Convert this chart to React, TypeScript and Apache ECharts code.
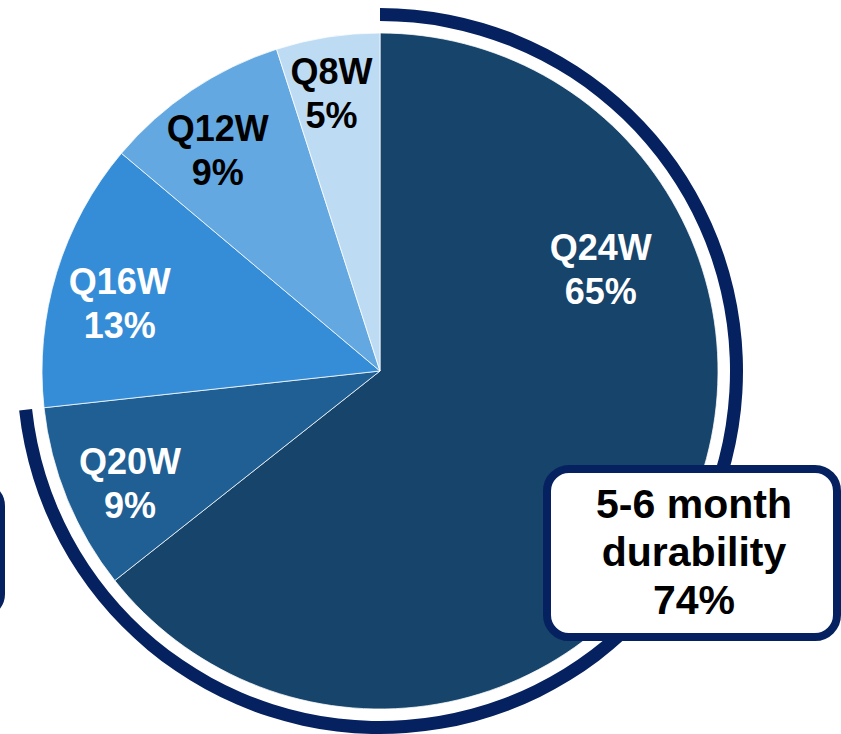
import React, { useEffect, useRef } from "react";
import * as echarts from "echarts";

// Dosing interval shares
const categories = ["Q24W", "Q20W", "Q16W", "Q12W", "Q8W"];
const shares = [65, 9, 13, 9, 5];
const sliceColors = ["#17446B", "#1F5F94", "#368DD7", "#63A8E0", "#BDDBF2"];
const labelColors = ["#FFFFFF", "#FFFFFF", "#FFFFFF", "#000000", "#000000"];
// Intervals grouped as 5-6 month durability (Q20W and Q24W)
const durableGroup = ["Q24W", "Q20W"];

// Label anchors in polar form around the pie centre: [clockwise angle from 12 o'clock, distance]
const labelSpots: [number, number][] = [
  [65.3, 243],
  [245.8, 274],
  [284.6, 269],
  [323.7, 274],
  [350.1, 282],
];

const NAVY = "#05215F";
const FONT = "'Liberation Sans', Arial, Helvetica, sans-serif";

export default function App() {
  const ref = useRef<HTMLDivElement>(null);

  useEffect(() => {
    if (!ref.current) return;
    const chart = echarts.init(ref.current, undefined, { renderer: "svg" });

    const cx = 380;
    const cy = 371;
    const R = 338;

    const total = shares.reduce((a, b) => a + b, 0);
    const durable = categories.reduce(
      (s, c, i) => (durableGroup.includes(c) ? s + shares[i] : s),
      0
    );

    const option: any = {
      animation: false,
      backgroundColor: "#FFFFFF",
      textStyle: { fontFamily: FONT },
      series: [
        {
          type: "pie",
          center: [cx, cy],
          radius: [0, R],
          startAngle: 90,
          clockwise: true,
          silent: true,
          itemStyle: { borderColor: "rgba(255,255,255,0.75)", borderWidth: 1 },
          label: {
            show: true,
            position: "inside",
            fontFamily: FONT,
            fontWeight: "bold",
            fontSize: 36,
            lineHeight: 44,
            align: "center",
            verticalAlign: "middle",
            formatter: (p: any) => `${p.name}\n${p.value}%`,
          },
          labelLine: { show: false },
          labelLayout: (p: any) => {
            const [deg, dist] = labelSpots[p.dataIndex];
            const a = (deg * Math.PI) / 180;
            return { x: cx + dist * Math.sin(a), y: cy - dist * Math.cos(a) };
          },
          data: categories.map((name, i) => ({
            name,
            value: shares[i],
            itemStyle: { color: sliceColors[i] },
            label: { color: labelColors[i] },
          })),
        },
        {
          // outer arc spanning the durable group
          type: "pie",
          center: [cx, cy],
          radius: [350, 363],
          startAngle: 90,
          clockwise: true,
          silent: true,
          label: { show: false },
          labelLine: { show: false },
          data: [
            { name: "durable", value: durable, itemStyle: { color: NAVY } },
            { name: "rest", value: total - durable, itemStyle: { color: "rgba(0,0,0,0)" } },
          ],
        },
      ],
      graphic: [
        {
          type: "rect",
          shape: { x: -300, y: 486, width: 301, height: 128, r: 20 },
          style: { fill: "#FFFFFF", stroke: NAVY, lineWidth: 8 },
          silent: true,
        },
        {
          type: "rect",
          shape: { x: 547, y: 469, width: 290, height: 168, r: 22 },
          style: { fill: "#FFFFFF", stroke: NAVY, lineWidth: 8 },
          silent: true,
          z: 10,
        },
        {
          type: "text",
          x: 694,
          y: 552,
          z: 11,
          silent: true,
          style: {
            text: `5-6 month\ndurability\n${durable}%`,
            fill: "#000000",
            font: `bold 41px ${FONT}`,
            lineHeight: 48,
            textAlign: "center",
            textVerticalAlign: "middle",
          },
        },
      ],
    };

    chart.setOption(option);
    return () => chart.dispose();
  }, []);

  return (
    <div
      ref={ref}
      style={{ position: "fixed", left: 0, top: 0, width: 841, height: 734 }}
    />
  );
}
